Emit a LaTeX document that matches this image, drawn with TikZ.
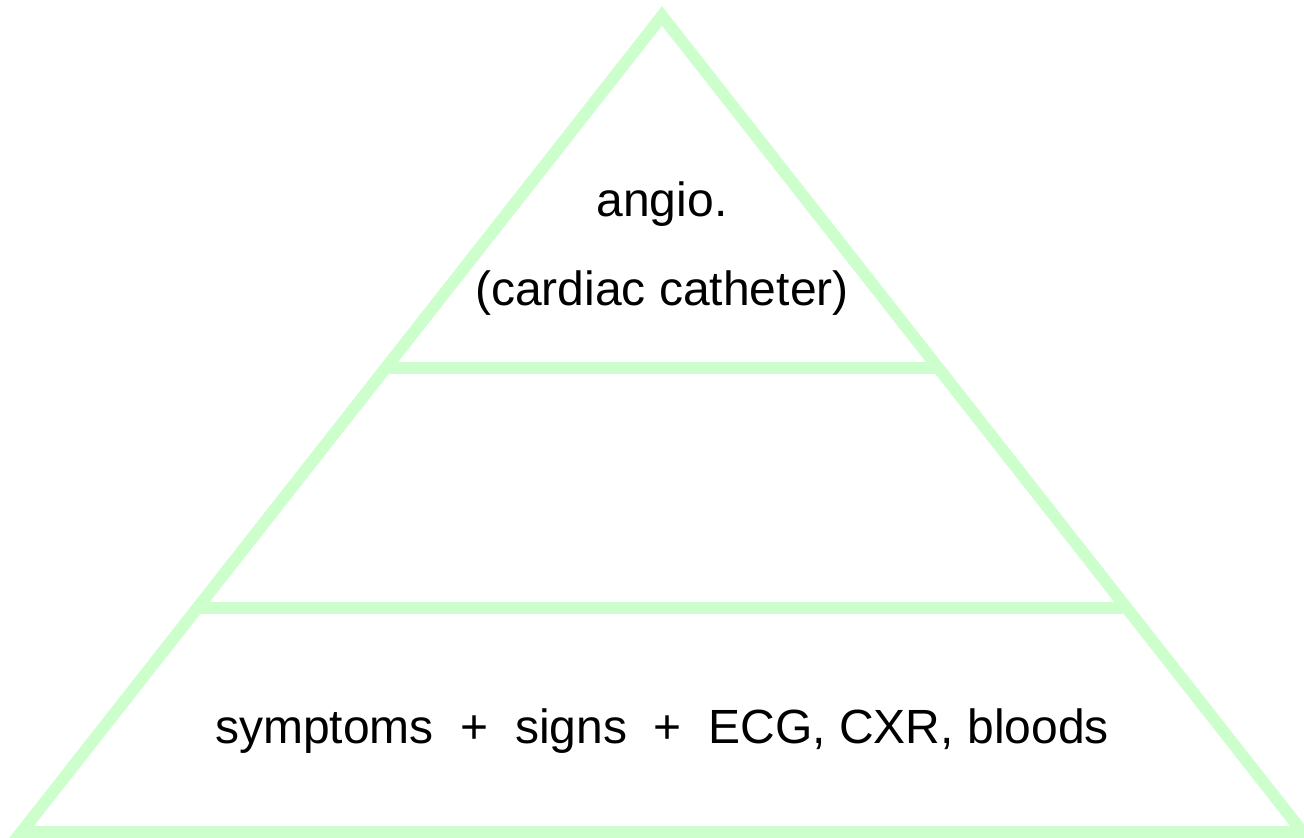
\documentclass[tikz,border=0pt]{standalone}
\usepackage{fontspec}
\setmainfont{Liberation Sans}
\usetikzlibrary{calc}
\definecolor{pyrgreen}{HTML}{CCFFCC}
\begin{document}
\begin{tikzpicture}[x=1pt,y=-1pt,
  pyrline/.style={draw=pyrgreen,line width=12pt,line join=miter},
  lbl/.style={anchor=base,inner sep=0pt,font=\fontsize{48}{58}\selectfont}]
\useasboundingbox (0,0) rectangle (1304,838);
\clip (0,0) rectangle (1304,838);
\coordinate (apex) at (662,16);
\coordinate (bl) at (21.5,832);
\coordinate (br) at (1302.5,832);
\coordinate (l1) at ($(apex)!0.4314!(bl)$);
\coordinate (r1) at ($(apex)!0.4314!(br)$);
\coordinate (l2) at ($(apex)!0.7255!(bl)$);
\coordinate (r2) at ($(apex)!0.7255!(br)$);
\draw[pyrline] (apex) -- (bl) -- (br) -- cycle;
\draw[pyrline] (l1) -- (r1);
\draw[pyrline] (l2) -- (r2);
\node[lbl] (top1) at (662,216) {angio.};
\node[lbl] (top2) at (662,305) {(cardiac catheter)};
\node[lbl] (bottom) at (662,743) {symptoms\ \ +\ \ signs\ \ +\ \ ECG, CXR, bloods};
\end{tikzpicture}
\end{document}
